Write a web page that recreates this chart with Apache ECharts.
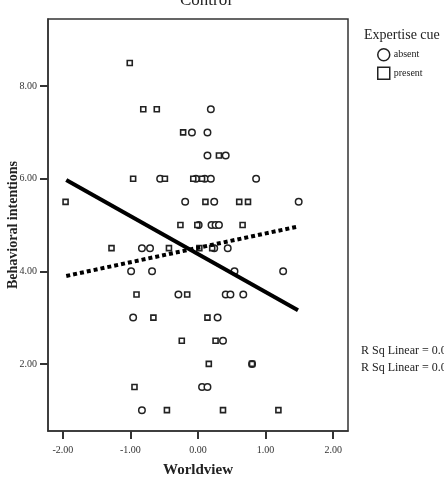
<!DOCTYPE html>
<html>
<head>
<meta charset="utf-8">
<script src="https://cdn.jsdelivr.net/npm/echarts@6/dist/echarts.min.js"></script>
<style>
  html, body { margin: 0; padding: 0; background: #fff; }
  #main { width: 444px; height: 486px; }
</style>
</head>
<body>
<div id="main"></div>
<script>
// Worldview (x) vs Behavioral intentions (y), Control condition
var absentPts = [
    [0.19, 7.5],
    [-0.09, 7], [0.14, 7],
    [0.14, 6.5], [0.41, 6.5],
    [-0.56, 6], [-0.03, 6], [0.10, 6], [0.19, 6], [0.86, 6],
    [-0.19, 5.5], [0.24, 5.5], [1.49, 5.5],
    [0.01, 5], [0.20, 5], [0.26, 5], [0.31, 5],
    [-0.83, 4.5], [-0.71, 4.5], [0.24, 4.5], [0.44, 4.5],
    [-0.99, 4], [-0.68, 4], [0.54, 4], [1.26, 4],
    [-0.29, 3.5], [0.41, 3.5], [0.48, 3.5], [0.67, 3.5],
    [-0.96, 3], [0.29, 3],
    [0.37, 2.5],
    [0.80, 2],
    [0.06, 1.5], [0.14, 1.5],
    [-0.83, 1]
];
var presentPts = [
    [-1.01, 8.5],
    [-0.81, 7.5], [-0.61, 7.5],
    [-0.22, 7],
    [0.31, 6.5],
    [-0.96, 6], [-0.49, 6], [-0.07, 6], [0.06, 6],
    [-1.96, 5.5], [0.11, 5.5], [0.61, 5.5], [0.74, 5.5],
    [-0.26, 5], [-0.01, 5], [0.66, 5],
    [-1.28, 4.5], [-0.43, 4.5], [0.02, 4.5], [0.21, 4.5],
    [-0.91, 3.5], [-0.16, 3.5],
    [-0.66, 3], [0.14, 3],
    [-0.24, 2.5], [0.26, 2.5],
    [0.16, 2], [0.80, 2],
    [-0.94, 1.5],
    [-0.46, 1], [0.37, 1], [1.19, 1]
];
// fit lines (end points)
var solidFit = [[-1.95, 5.97], [1.48, 3.16]];
var dottedFit = [[-1.95, 3.90], [1.49, 4.97]];

var xTicks = [-2, -1, 0, 1, 2];
var yTicks = [2, 4, 6, 8];
var rsqLabels = ['R Sq Linear = 0.01', 'R Sq Linear = 0.07'];

var serif = '"Liberation Serif", "DejaVu Serif", serif';
var ink = '#222';

var myChart = echarts.init(document.getElementById('main'));
var option = {
    animation: false,
    backgroundColor: '#fff',
    title: [{
        text: 'Control',
        left: 201,
        textAlign: 'center',
        top: -13,
        textStyle: { fontFamily: serif, fontSize: 17, fontWeight: 'normal', color: ink }
    }, {
        text: 'Expertise cue',
        left: 359,
        top: 23,
        textStyle: { fontFamily: serif, fontSize: 14, fontWeight: 'normal', color: ink }
    }, {
        text: rsqLabels[0],
        left: 356,
        top: 340,
        textStyle: { fontFamily: serif, fontSize: 12, fontWeight: 'normal', color: ink }
    }, {
        text: rsqLabels[1],
        left: 356,
        top: 357,
        textStyle: { fontFamily: serif, fontSize: 12, fontWeight: 'normal', color: ink }
    }],
    legend: {
        orient: 'vertical',
        left: 372,
        top: 43,
        itemGap: 5,
        itemWidth: 12,
        itemHeight: 12,
        data: [{ name: 'absent', icon: 'circle' }, { name: 'present', icon: 'rect' }],
        itemStyle: { color: '#fff', borderColor: ink, borderWidth: 1.5 },
        textStyle: { fontFamily: serif, fontSize: 10, color: ink, padding: [0, 0, 0, -1] }
    },
    grid: {
        left: 48,
        right: 96,
        top: 19,
        bottom: 55,
        outerBoundsMode: 'none',
        containLabel: false,
        show: true,
        borderColor: '#333',
        borderWidth: 1.5,
        backgroundColor: '#fff'
    },
    xAxis: {
        type: 'value',
        min: -2.22,
        max: 2.22,
        name: 'Worldview',
        nameLocation: 'middle',
        nameGap: 32,
        nameMoveOverlap: false,
        nameTextStyle: { fontFamily: serif, fontSize: 15, fontWeight: 'bold', color: ink },
        axisLine: { show: true, onZero: false, lineStyle: { color: '#333', width: 1.5 } },
        axisTick: { show: true, length: 8, customValues: xTicks, lineStyle: { color: '#333', width: 2 } },
        axisLabel: {
            customValues: xTicks,
            formatter: function (v) { return v.toFixed(2); },
            fontFamily: serif, fontSize: 10, color: '#333', margin: 14
        },
        splitLine: { show: false }
    },
    yAxis: {
        type: 'value',
        min: 0.55,
        max: 9.45,
        name: 'Behavioral intentions',
        nameLocation: 'middle',
        nameGap: 28,
        nameMoveOverlap: false,
        nameTextStyle: { fontFamily: serif, fontSize: 14, fontWeight: 'bold', color: ink },
        axisLine: { show: true, onZero: false, lineStyle: { color: '#333', width: 1.5 } },
        axisTick: { show: true, length: 8, customValues: yTicks, lineStyle: { color: '#333', width: 2 } },
        axisLabel: {
            customValues: yTicks,
            formatter: function (v) { return v.toFixed(2); },
            fontFamily: serif, fontSize: 10, color: '#333', margin: 11
        },
        splitLine: { show: false }
    },
    series: [{
        name: 'absent',
        type: 'scatter',
        symbol: 'circle',
        symbolSize: 6.5,
        itemStyle: { color: '#fff', borderColor: ink, borderWidth: 1.5, opacity: 1 },
        data: absentPts,
        z: 3
    }, {
        name: 'present',
        type: 'scatter',
        symbol: 'rect',
        symbolSize: 5,
        itemStyle: { color: '#fff', borderColor: ink, borderWidth: 1.6, opacity: 1 },
        data: presentPts,
        z: 3
    }, {
        name: 'fit solid',
        type: 'line',
        symbol: 'none',
        data: solidFit,
        lineStyle: { color: '#000', width: 4 },
        z: 4
    }, {
        name: 'fit dotted',
        type: 'line',
        symbol: 'none',
        data: dottedFit,
        lineStyle: { color: '#000', width: 4, type: [4, 3] },
        z: 4
    }]
};
if (option && typeof option === "object") {
    myChart.setOption(option, true);
}
</script>
</body>
</html>
